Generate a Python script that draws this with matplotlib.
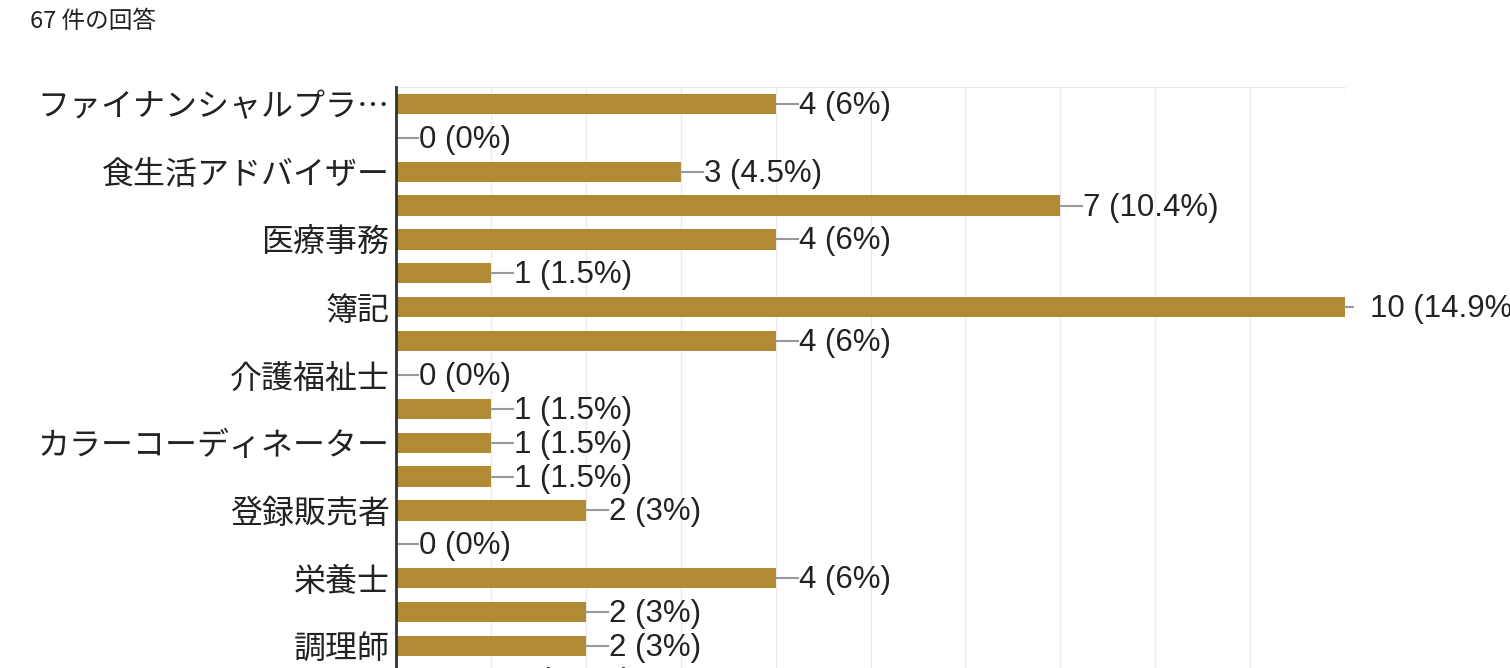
import matplotlib
matplotlib.use('Agg')
import matplotlib.pyplot as plt

total = 67
labels = ['ファイナンシャルプラ…', '', '食生活アドバイザー', '', '医療事務', '', '簿記', '',
          '介護福祉士', '', 'カラーコーディネーター', '', '登録販売者', '', '栄養士', '',
          '調理師', '']
values = [4, 0, 3, 7, 4, 1, 10, 4, 0, 1, 1, 1, 2, 0, 4, 2, 2, 1]
xticks = list(range(0, 11))

bar_color = '#b08b34'
text_color = '#222222'

W, H = 1510, 668
fig = plt.figure(figsize=(W / 100, H / 100), dpi=100)

row_px = 33.875
top_px = 87
left_px, right_px = 396, 1345
n = len(values)
bottom_px = top_px + n * row_px
ax = fig.add_axes([left_px / W, 1 - bottom_px / H,
                   (right_px - left_px) / W, (bottom_px - top_px) / H])

ypos = list(range(n))
ax.barh(ypos, values, height=0.6, color=bar_color, zorder=3)
ax.set_xlim(0, 10)
ax.set_ylim(n - 0.5, -0.5)

ax.set_xticks(xticks)
ax.xaxis.grid(True, color='#ebebeb', lw=1, zorder=0)
ax.tick_params(axis='x', bottom=False, labelbottom=False)
ax.set_yticks(ypos)
ax.set_yticklabels(labels, fontsize=23, color=text_color,
                   family=['Noto Sans CJK JP', 'DejaVu Sans'])
ax.tick_params(axis='y', left=False, pad=1)

for s in ['right', 'bottom']:
    ax.spines[s].set_visible(False)
ax.spines['top'].set_color('#ebebeb')
ax.spines['left'].set_color('#333333')
ax.spines['left'].set_linewidth(2)
ax.spines['left'].set_zorder(5)

px_unit = (right_px - left_px) / 10.0
xmax = ax.get_xlim()[1]
for y, v in zip(ypos, values):
    pct = round(v / total * 100, 1)
    pct_s = ('%.1f' % pct).rstrip('0').rstrip('.')
    if v >= xmax:
        # bar reaches the edge: short stub, label pushed further out
        x1 = v + 8 / px_unit
        xt = v + 25 / px_unit
    else:
        x1 = v + 22 / px_unit
        xt = x1 + 1 / px_unit
    ax.plot([v, x1], [y, y], color='#999999', lw=1.5, clip_on=False, zorder=4)
    ax.text(xt, y + 2 / row_px, '%d (%s%%)' % (v, pct_s), fontsize=22.5,
            color=text_color, va='center', ha='left', clip_on=False,
            family=['Liberation Sans', 'Noto Sans CJK JP'])

fig.text(30 / W, 1 - 22 / H, '67 件の回答', fontsize=17, color=text_color,
         va='center', ha='left', family=['Noto Sans CJK JP', 'DejaVu Sans'])

fig.savefig('out.png', dpi=100)
